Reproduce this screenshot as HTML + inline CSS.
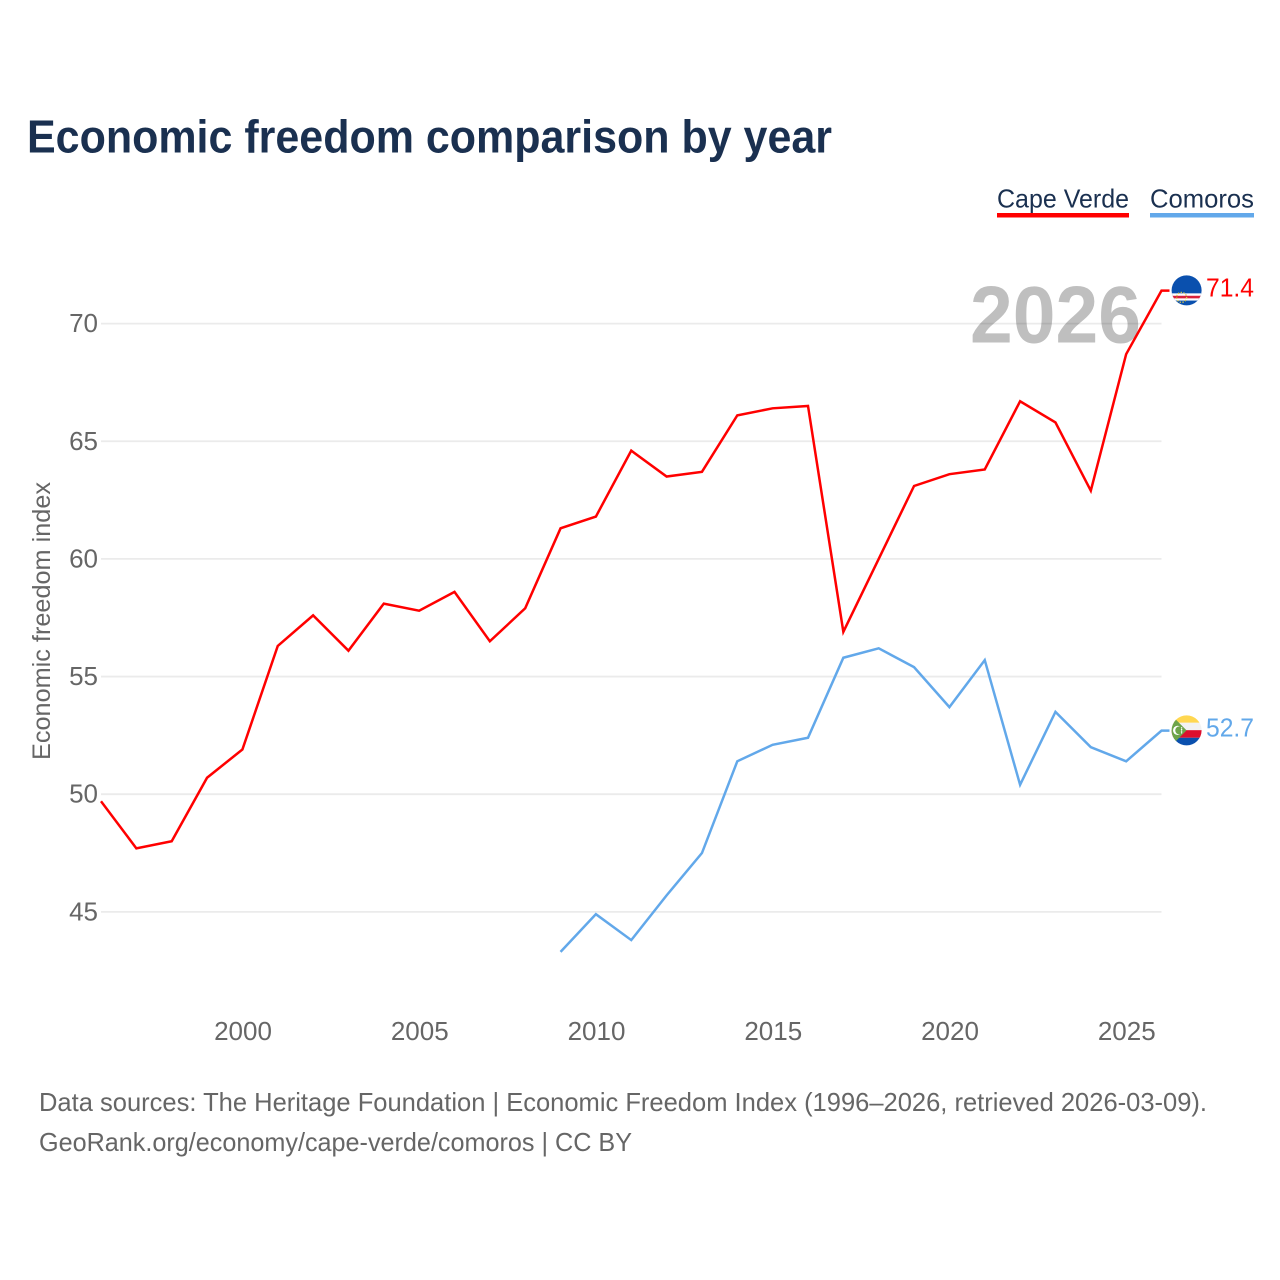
<!DOCTYPE html>
<html lang="en">
<head>
<meta charset="utf-8">
<title>Economic freedom comparison by year</title>
<style>
html,body{margin:0;padding:0;background:#fff;}
svg{display:block;font-family:"Liberation Sans",sans-serif;}
</style>
</head>
<body>
<svg id="chart" xmlns="http://www.w3.org/2000/svg" width="1280" height="1280" viewBox="0 0 1280 1280">
  <defs>
    <clipPath id="flag-clip-cv"><circle cx="0" cy="0" r="15"></circle></clipPath>
    <clipPath id="flag-clip-km"><circle cx="0" cy="0" r="15"></circle></clipPath>
  </defs>
  <rect width="1280" height="1280" fill="#fff"></rect>
  <text x="27" y="152.5" font-size="46" font-weight="700" fill="#1a3050" textLength="805" lengthAdjust="spacingAndGlyphs">Economic freedom comparison by year</text>

  <g>
    <g>
      <text x="997" y="207.5" font-size="26" fill="#1a3050" textLength="132" lengthAdjust="spacingAndGlyphs">Cape Verde</text>
      <rect x="997" y="213" width="132" height="4.5" fill="#ff0000"></rect>
    </g>
    <g>
      <text x="1150" y="207.5" font-size="26" fill="#1a3050" textLength="104" lengthAdjust="spacingAndGlyphs">Comoros</text>
      <rect x="1150" y="213" width="104" height="4.5" fill="#62a8ea"></rect>
    </g>
  </g>

  <text x="970" y="342.5" font-size="81" font-weight="700" fill="#bfbfbf" textLength="171" lengthAdjust="spacingAndGlyphs">2026</text>
  <g id="grid"></g>
  <g id="y-ticks"></g>
  <g id="x-ticks"></g>
  <text transform="translate(50,760) rotate(-90)" x="0" y="0" font-size="25" fill="#666666" textLength="278" lengthAdjust="spacingAndGlyphs">Economic freedom index</text>
  <g id="series"></g>

  <g id="flag-cv">
    <g clip-path="url(#flag-clip-cv)">
      <rect x="-16" y="-16" width="32" height="32" fill="#0a50ae"></rect>
      <rect x="-16" y="3" width="32" height="7.2" fill="#ffffff"></rect>
      <rect x="-16" y="5.4" width="32" height="2.6" fill="#d8213b"></rect>
      <circle cx="-5" cy="7" r="5" fill="none" stroke="#d9c64a" stroke-width="1.3" stroke-dasharray="1.4 1.4"></circle>
    </g>
  </g>
  <g id="flag-km">
    <g clip-path="url(#flag-clip-km)">
      <rect x="-16" y="-16" width="32" height="8.4" fill="#ffd750"></rect>
      <rect x="-16" y="-7.6" width="32" height="7.4" fill="#f2f2f2"></rect>
      <rect x="-16" y="-0.2" width="32" height="7.6" fill="#dc0f2e"></rect>
      <rect x="-16" y="7.4" width="32" height="8.6" fill="#0a50ae"></rect>
      <polygon points="-16,-16 0,0 -16,16" fill="#6ea44a"></polygon>
      <circle cx="-9" cy="0" r="4.6" fill="#ffffff"></circle>
      <circle cx="-7.3" cy="0" r="4" fill="#6ea44a"></circle>
      <circle cx="-5" cy="-2.5" r="0.7" fill="#ffffff"></circle>
      <circle cx="-5" cy="-0.8" r="0.7" fill="#ffffff"></circle>
      <circle cx="-5" cy="0.8" r="0.7" fill="#ffffff"></circle>
      <circle cx="-5" cy="2.5" r="0.7" fill="#ffffff"></circle>
    </g>
  </g>
  <text id="value-cv" x="1206" y="297" font-size="26" fill="#ff0000" textLength="48" lengthAdjust="spacingAndGlyphs"></text>
  <text id="value-km" x="1206" y="737" font-size="26" fill="#62a8ea" textLength="48" lengthAdjust="spacingAndGlyphs"></text>

  <g>
    <text x="39" y="1111" font-size="26" fill="#666666" textLength="1168" lengthAdjust="spacingAndGlyphs">Data sources: The Heritage Foundation | Economic Freedom Index (1996–2026, retrieved 2026-03-09).</text>
    <text x="39" y="1151" font-size="26" fill="#666666" textLength="593" lengthAdjust="spacingAndGlyphs">GeoRank.org/economy/cape-verde/comoros | CC BY</text>
  </g>
</svg>
<script>
const yTickValues = [45, 50, 55, 60, 65, 70];
const xTickYears = [2000, 2005, 2010, 2015, 2020, 2025];
const capeVerdeYears = [1996,1997,1998,1999,2000,2001,2002,2003,2004,2005,2006,2007,2008,2009,2010,2011,2012,2013,2014,2015,2016,2017,2018,2019,2020,2021,2022,2023,2024,2025,2026];
const capeVerdeValues = [49.7,47.7,48.0,50.7,51.9,56.3,57.6,56.1,58.1,57.8,58.6,56.5,57.9,61.3,61.8,64.6,63.5,63.7,66.1,66.4,66.5,56.9,60.0,63.1,63.6,63.8,66.7,65.8,62.9,68.7,71.4];
const comorosYears = [2009,2010,2011,2012,2013,2014,2015,2016,2017,2018,2019,2020,2021,2022,2023,2024,2025,2026];
const comorosValues = [43.3,44.9,43.8,45.7,47.5,51.4,52.1,52.4,55.8,56.2,55.4,53.7,55.7,50.4,53.5,52.0,51.4,52.7];

const NS = 'http://www.w3.org/2000/svg';
const plotLeft = 101, plotRight = 1161.5;
const xScale = year => plotLeft + (year - 1996) * (plotRight - plotLeft) / 30;
const yScale = value => 323.6 + (70 - value) * 23.53;

const gridGroup = document.getElementById('grid');
const yTickGroup = document.getElementById('y-ticks');
const xTickGroup = document.getElementById('x-ticks');
const seriesGroup = document.getElementById('series');

yTickValues.forEach(value => {
  const line = document.createElementNS(NS, 'line');
  
  
  line.setAttribute('x1', plotLeft);
  line.setAttribute('x2', plotRight);
  line.setAttribute('y1', yScale(value));
  line.setAttribute('y2', yScale(value));
  line.setAttribute('stroke', 'rgba(0,0,0,0.08)');
  line.setAttribute('stroke-width', '1.8');
  gridGroup.appendChild(line);

  const label = document.createElementNS(NS, 'text');
  
  
  label.setAttribute('x', 98);
  label.setAttribute('y', yScale(value) + 8.5);
  label.setAttribute('text-anchor', 'end');
  label.setAttribute('font-size', '26');
  label.setAttribute('fill', '#666666');
  label.textContent = value;
  yTickGroup.appendChild(label);
});

xTickYears.forEach(year => {
  const label = document.createElementNS(NS, 'text');
  
  
  label.setAttribute('x', xScale(year) + 0.6);
  label.setAttribute('y', 1040);
  label.setAttribute('text-anchor', 'middle');
  label.setAttribute('font-size', '26');
  label.setAttribute('fill', '#666666');
  label.textContent = year;
  xTickGroup.appendChild(label);
});

function drawSeries(years, values, color, name, flagId, valueId) {
  const endY = yScale(values[values.length - 1]);
  const pts = years.map((year, i) => xScale(year).toFixed(2) + ',' + yScale(values[i]).toFixed(2));
  pts.push('1169.5,' + endY.toFixed(2));
  const line = document.createElementNS(NS, 'polyline');
  
  
  line.setAttribute('points', pts.join(' '));
  line.setAttribute('fill', 'none');
  line.setAttribute('stroke', color);
  line.setAttribute('stroke-width', '2.5');
  line.setAttribute('stroke-linejoin', 'miter');
  seriesGroup.appendChild(line);

  const flagTransform = 'translate(1186.6,' + (endY - 0.3).toFixed(2) + ')';
  document.getElementById(flagId).setAttribute('transform', flagTransform);
  const valueLabel = document.getElementById(valueId);
  valueLabel.setAttribute('y', (endY + 6).toFixed(2));
  valueLabel.textContent = values[values.length - 1].toFixed(1);
}

drawSeries(capeVerdeYears, capeVerdeValues, '#ff0000', 'line-cape-verde', 'flag-cv', 'value-cv');
drawSeries(comorosYears, comorosValues, '#62a8ea', 'line-comoros', 'flag-km', 'value-km');
</script>
</body>
</html>
